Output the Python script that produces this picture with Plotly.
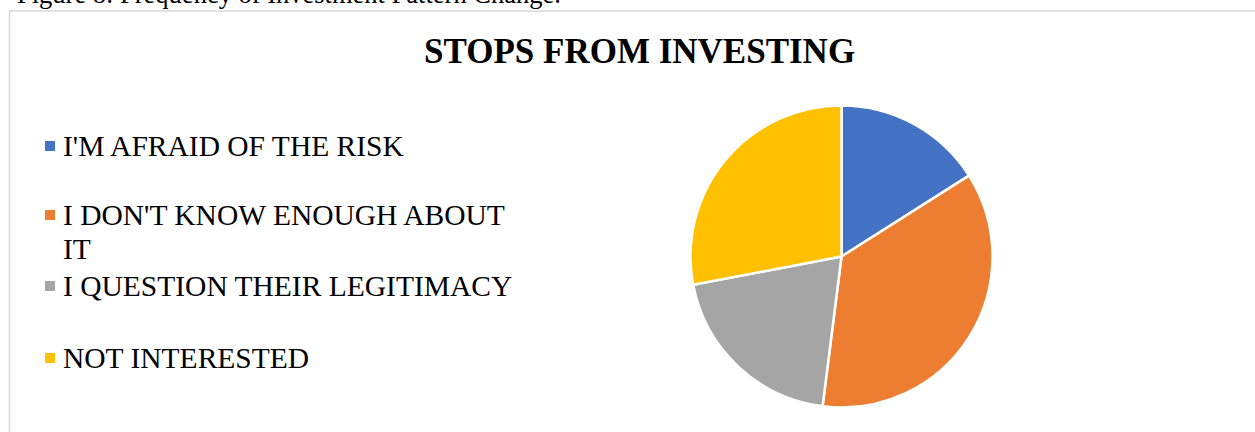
import textwrap
import plotly.graph_objects as go

# Survey responses: reasons that stop respondents from investing
categories = [
    "I'M AFRAID OF THE RISK",
    "I DON'T KNOW ENOUGH ABOUT IT",
    "I QUESTION THEIR LEGITIMACY",
    "NOT INTERESTED",
]
responses = [16, 36, 20, 28]
slice_colors = ["#4472C4", "#ED7D31", "#A5A5A5", "#FFC000"]

chart_title = "STOPS FROM INVESTING"
caption = "Figure 8: Frequency of Investment Pattern Change."

W, H = 1255, 432
FONT = "Liberation Serif, Times New Roman, serif"


def px_x(x):
    return x / W


def px_y(y):
    return 1 - y / H


# pie placement (pixel centre and radius)
cx, cy, r = 841.5, 256.5, 151

fig = go.Figure(
    go.Pie(
        labels=categories,
        values=responses,
        sort=False,
        direction="clockwise",
        rotation=0,
        marker=dict(colors=slice_colors, line=dict(color="white", width=2.5)),
        textinfo="none",
        showlegend=False,
        domain=dict(
            x=[px_x(cx - r), px_x(cx + r)],
            y=[px_y(cy + r), px_y(cy - r)],
        ),
    )
)

annotations = [
    dict(
        text=caption, x=px_x(15), y=px_y(11), xref="paper", yref="paper",
        xanchor="left", yanchor="bottom", showarrow=False,
        font=dict(family=FONT, size=26.5, color="black"),
    ),
    dict(
        text=f"<b>{chart_title}</b>", x=px_x(639), y=px_y(52), xref="paper", yref="paper",
        xanchor="center", yanchor="middle", showarrow=False,
        font=dict(family=FONT, size=35, color="black"),
    ),
]
shapes = [
    # chart area frame
    dict(type="rect", xref="paper", yref="paper",
         x0=px_x(9.5), x1=1.02, y0=-0.02, y1=px_y(11),
         line=dict(color="#D9D9D9", width=1.5), fillcolor="rgba(0,0,0,0)", layer="below"),
]

# hand-built legend, baselines of the first line of each entry
legend_baselines = [155, 224, 295, 367]
LEG_FS = 29.5
LINE_GAP = 34
for label, color, base in zip(categories, slice_colors, legend_baselines):
    for k, line in enumerate(textwrap.wrap(label, width=27)):
        b = base + k * LINE_GAP
        annotations.append(dict(
            text=line, x=px_x(61), y=px_y(b - 9), xref="paper", yref="paper",
            xanchor="left", yanchor="middle", align="left", showarrow=False,
            font=dict(family=FONT, size=LEG_FS, color="black"),
        ))
    my = base - 9
    shapes.append(dict(
        type="rect", xref="paper", yref="paper",
        x0=px_x(45), x1=px_x(55), y0=px_y(my + 5), y1=px_y(my - 5),
        line=dict(width=0), fillcolor=color,
    ))

fig.update_layout(
    width=W, height=H,
    margin=dict(l=0, r=0, t=0, b=0),
    paper_bgcolor="white", plot_bgcolor="white",
    annotations=annotations, shapes=shapes,
)

fig.write_html("out.html", config={"displayModeBar": False})
